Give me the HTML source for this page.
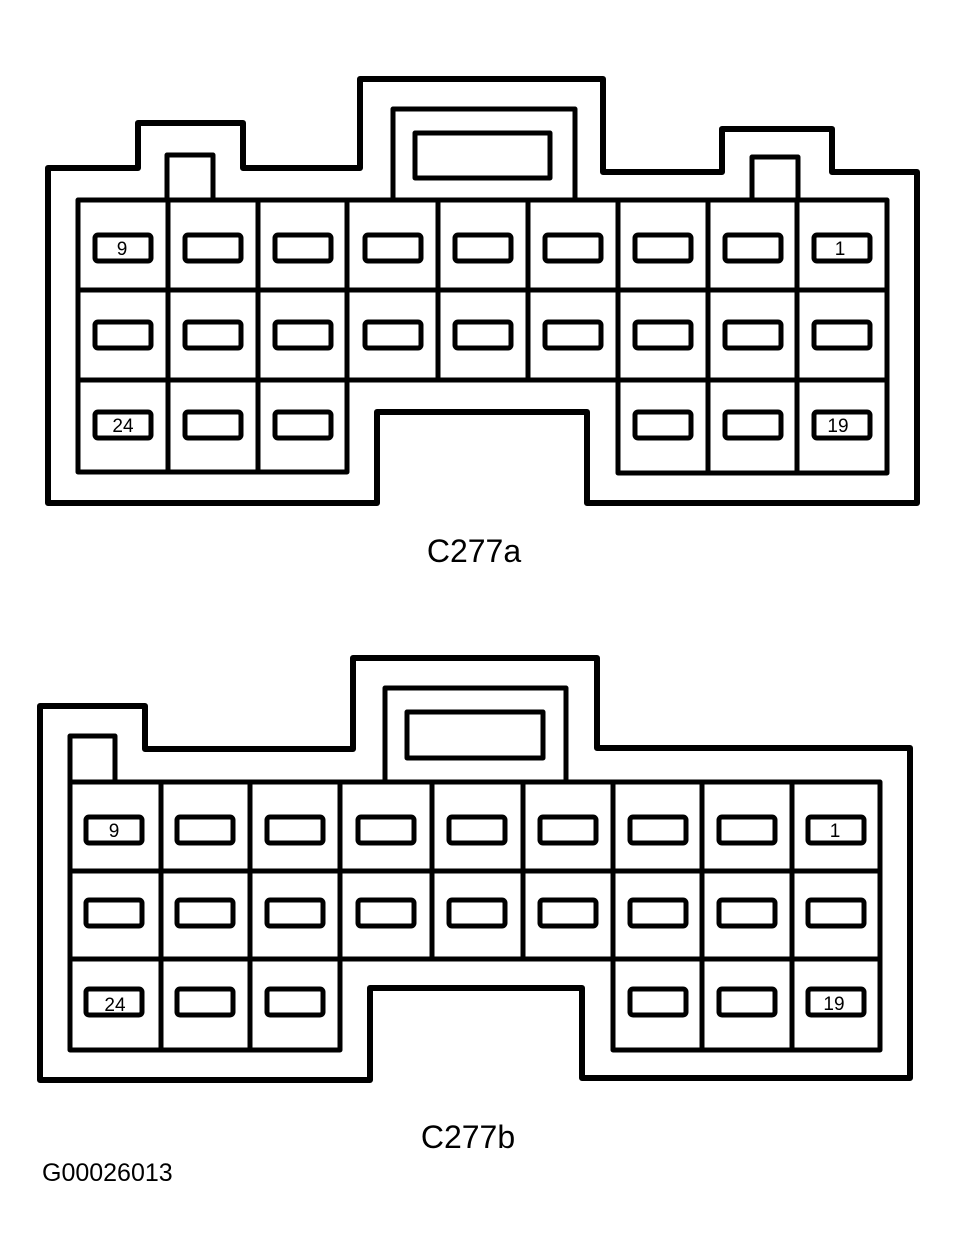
<!DOCTYPE html>
<html><head><meta charset="utf-8"><style>
html,body{margin:0;padding:0;background:#fff;}
svg{display:block}
text{font-family:"Liberation Sans",sans-serif;fill:#000}
</style></head><body>
<svg width="958" height="1257" viewBox="0 0 958 1257" xmlns="http://www.w3.org/2000/svg">
<g fill="none" stroke="#000" stroke-linejoin="round">
<path stroke-width="6" d="M48,168 H138 V123 H243 V168 H360 V79 H603 V172 H722 V129 H832 V172 H917 V503 H587 V412 H377 V503 H48 Z"/>
<path stroke-width="5" d="M393,200 V109 H575 V200"/>
<rect stroke-width="5" x="415" y="133" width="135" height="45"/>
<path stroke-width="5" d="M167,200 V155 H213 V200"/>
<path stroke-width="5" d="M752,200 V157 H798 V200"/>
<path stroke-width="5" d="M78,200 H887 V473 H618 V380 H347 V472 H78 Z"/>
<path stroke-width="5" d="M78,290 H887 M78,380 H347 M618,380 H887
M168,200 V472 M258,200 V472 M347,200 V380 M438,200 V380 M528,200 V380 M618,200 V380 M708,200 V473 M797,200 V473"/>
<g stroke-width="5">
<rect x="95" y="235" width="56" height="26" rx="3"/><rect x="185" y="235" width="56" height="26" rx="3"/><rect x="275" y="235" width="56" height="26" rx="3"/><rect x="365" y="235" width="56" height="26" rx="3"/><rect x="455" y="235" width="56" height="26" rx="3"/><rect x="545" y="235" width="56" height="26" rx="3"/><rect x="635" y="235" width="56" height="26" rx="3"/><rect x="725" y="235" width="56" height="26" rx="3"/><rect x="814" y="235" width="56" height="26" rx="3"/>
<rect x="95" y="322" width="56" height="26" rx="3"/><rect x="185" y="322" width="56" height="26" rx="3"/><rect x="275" y="322" width="56" height="26" rx="3"/><rect x="365" y="322" width="56" height="26" rx="3"/><rect x="455" y="322" width="56" height="26" rx="3"/><rect x="545" y="322" width="56" height="26" rx="3"/><rect x="635" y="322" width="56" height="26" rx="3"/><rect x="725" y="322" width="56" height="26" rx="3"/><rect x="814" y="322" width="56" height="26" rx="3"/>
<rect x="95" y="412" width="56" height="26" rx="3"/><rect x="185" y="412" width="56" height="26" rx="3"/><rect x="275" y="412" width="56" height="26" rx="3"/><rect x="635" y="412" width="56" height="26" rx="3"/><rect x="725" y="412" width="56" height="26" rx="3"/><rect x="814" y="412" width="56" height="26" rx="3"/>
</g>
<path stroke-width="6" d="M40,706 H145 V749 H353 V658 H597 V748 H910 V1078 H582 V988 H370 V1080 H40 Z"/>
<path stroke-width="5" d="M385,782 V688 H566 V782"/>
<rect stroke-width="5" x="407" y="712" width="136" height="46"/>
<path stroke-width="5" d="M70,782 V736 H115 V782"/>
<path stroke-width="5" d="M70,782 H880 V1050 H613 V959 H340 V1050 H70 Z"/>
<path stroke-width="5" d="M70,871 H880 M70,959 H340 M613,959 H880
M161,782 V1050 M250,782 V1050 M340,782 V959 M432,782 V959 M523,782 V959 M613,782 V959 M702,782 V1050 M792,782 V1050"/>
<g stroke-width="5">
<rect x="86" y="817" width="56" height="26" rx="3"/><rect x="177" y="817" width="56" height="26" rx="3"/><rect x="267" y="817" width="56" height="26" rx="3"/><rect x="358" y="817" width="56" height="26" rx="3"/><rect x="449" y="817" width="56" height="26" rx="3"/><rect x="540" y="817" width="56" height="26" rx="3"/><rect x="630" y="817" width="56" height="26" rx="3"/><rect x="719" y="817" width="56" height="26" rx="3"/><rect x="808" y="817" width="56" height="26" rx="3"/>
<rect x="86" y="900" width="56" height="26" rx="3"/><rect x="177" y="900" width="56" height="26" rx="3"/><rect x="267" y="900" width="56" height="26" rx="3"/><rect x="358" y="900" width="56" height="26" rx="3"/><rect x="449" y="900" width="56" height="26" rx="3"/><rect x="540" y="900" width="56" height="26" rx="3"/><rect x="630" y="900" width="56" height="26" rx="3"/><rect x="719" y="900" width="56" height="26" rx="3"/><rect x="808" y="900" width="56" height="26" rx="3"/>
<rect x="86" y="989" width="56" height="26" rx="3"/><rect x="177" y="989" width="56" height="26" rx="3"/><rect x="267" y="989" width="56" height="26" rx="3"/><rect x="630" y="989" width="56" height="26" rx="3"/><rect x="719" y="989" width="56" height="26" rx="3"/><rect x="808" y="989" width="56" height="26" rx="3"/>
</g>
</g>
<g font-size="19" text-anchor="middle">
<text x="122" y="255" font-family="Liberation Serif,serif">9</text>
<text x="840" y="255">1</text>
<text x="123" y="432" font-family="Liberation Serif,serif">24</text>
<text x="838" y="432">19</text>
<text x="114" y="837" font-family="Liberation Serif,serif">9</text>
<text x="835" y="837">1</text>
<text x="115" y="1011" font-family="Liberation Serif,serif">24</text>
<text x="834" y="1010">19</text>
</g>
<text x="474" y="562" font-size="32" text-anchor="middle">C277a</text>
<text x="468" y="1148" font-size="32" text-anchor="middle">C277b</text>
<text x="42" y="1181" font-size="25">G00026013</text>
</svg>
</body></html>
